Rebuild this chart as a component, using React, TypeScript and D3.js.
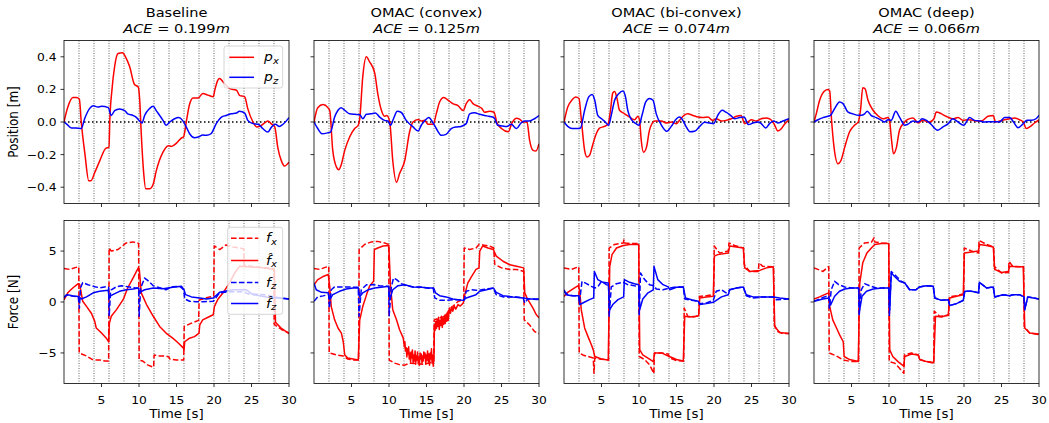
import React from "react";
import * as d3 from "d3";

type Pt = [number, number];

// panel titles and tracking error
const methods = ["Baseline", "OMAC (convex)", "OMAC (bi-convex)", "OMAC (deep)"];
const aceErrors = ["0.199", "0.125", "0.074", "0.066"];
const timeTicks = [5, 10, 15, 20, 25, 30];
const phaseTimes = [2, 4, 6, 8, 10, 12, 14, 16, 18, 20, 22, 24, 26, 28];
const positionTicks = [-0.4, -0.2, 0, 0.2, 0.4];
const forceTicks = [-5, 0, 5];

// ---- position [m] ----
const baselinePx: Pt[] = [[0,0],[0.5,0.09],[1.2,0.15],[1.65,0.15],[2.05,0.14],[2.3,0],[2.8,-0.2],[3.3,-0.36],[3.6,-0.36],[4.1,-0.31],[4.75,-0.24],[5.6,-0.16],[6.0,-0.155],[6.1,0],[6.4,0.2],[6.75,0.34],[7.2,0.42],[7.8,0.425],[8.2,0.4],[8.75,0.34],[9.4,0.23],[9.9,0.215],[10.1,0.13],[10.3,-0.07],[10.6,-0.3],[10.9,-0.41],[11.4,-0.41],[11.9,-0.38],[12.3,-0.3],[13.2,-0.185],[13.9,-0.145],[14.3,-0.15],[15,-0.13],[15.6,-0.1],[15.95,-0.09],[16.3,0],[16.75,0.11],[17.2,0.148],[17.9,0.148],[18.5,0.175],[19.2,0.165],[19.9,0.155],[20.1,0.195],[20.5,0.256],[20.75,0.267],[21.2,0.246],[21.6,0.226],[22.1,0.205],[23,0.195],[23.4,0.164],[24.1,0.154],[24.5,0.082],[25.2,0],[25.7,-0.03],[26.1,-0.027],[26.75,-0.006],[27.2,0.006],[27.6,-0.01],[28.1,-0.03],[28.5,-0.155],[29,-0.24],[29.4,-0.27],[30,-0.246]];
const baselinePz: Pt[] = [[0,0],[0.3,-0.01],[1,-0.037],[1.6,-0.037],[2.3,-0.04],[2.75,0.02],[3.4,0.082],[3.9,0.1],[4.5,0.092],[5,0.096],[5.9,0.088],[6.3,0.04],[6.75,0.07],[7.4,0.08],[8.1,0.07],[8.5,0.05],[9.2,0.04],[9.6,0.03],[10.1,0.005],[10.4,-0.006],[10.75,0.04],[11.4,0.082],[11.9,0.096],[12.3,0.07],[13.2,0.01],[13.6,-0.02],[14.1,0],[14.75,0.02],[15.3,0.027],[15.8,0.01],[16.3,-0.03],[16.75,-0.072],[17.4,-0.096],[17.9,-0.092],[18.5,-0.08],[19,-0.082],[19.6,-0.072],[20.3,-0.01],[21,0.03],[21.6,0.04],[22.3,0.05],[23,0.055],[23.4,0.066],[24.1,0.055],[24.5,0.01],[25.2,-0.01],[25.9,-0.014],[26.5,-0.04],[27.2,-0.062],[27.6,-0.035],[28.2,-0.014],[28.7,-0.027],[29.2,-0.014],[30,0.027]];
const convexPx: Pt[] = [[0,0],[0.5,0.088],[1.2,0.107],[1.85,0.088],[2.1,0.07],[2.5,-0.174],[3,-0.277],[3.3,-0.293],[3.6,-0.267],[4.1,-0.174],[4.75,-0.092],[5.4,-0.041],[5.9,-0.02],[6.1,0.02],[6.5,0.277],[6.98,0.4],[7.4,0.37],[8.1,0.3],[8.5,0.174],[9,0.07],[9.4,0.035],[9.7,0.04],[10.1,0],[10.5,-0.236],[11,-0.37],[11.4,-0.318],[12.1,-0.236],[12.75,-0.06],[13.2,0],[13.9,0.016],[14.3,0.006],[14.75,0.01],[15.2,-0.014],[15.9,-0.014],[16.3,0.05],[16.75,0.123],[17.3,0.15],[17.9,0.133],[18.5,0.113],[19.2,0.1],[19.9,0.07],[20.3,0.113],[20.75,0.137],[21.2,0.113],[21.9,0.096],[22.4,0.082],[22.75,0.06],[23.4,0.066],[24,0.06],[24.4,-0.006],[25,-0.04],[25.9,-0.06],[26.4,-0.006],[27,0.023],[27.4,0.018],[27.9,0],[28.4,0],[28.75,-0.113],[29.2,-0.174],[29.6,-0.178],[30,-0.133]];
const convexPz: Pt[] = [[0,0],[0.5,-0.04],[1.07,-0.072],[1.87,-0.066],[2.2,-0.062],[2.75,0.03],[3.2,0.072],[3.6,0.088],[4.1,0.072],[4.75,0.05],[5.4,0.047],[6.1,0.045],[6.5,0.02],[6.98,0.047],[7.6,0.05],[8.2,0.055],[8.75,0.03],[9.4,0.01],[9.87,0.006],[10.2,-0.02],[10.6,0.02],[11.1,0.066],[11.6,0.06],[12.3,0.01],[13.2,-0.03],[13.9,-0.055],[14.3,-0.02],[14.75,0.006],[15.3,0.027],[15.8,0],[16.3,-0.04],[17,-0.082],[17.6,-0.076],[18.3,-0.04],[19,-0.03],[19.6,-0.027],[20.3,-0.01],[20.75,0.05],[21.4,0.057],[22.1,0.047],[22.75,0.04],[23.3,0.035],[24,0.027],[24.5,-0.02],[25.2,-0.025],[25.7,-0.027],[26.3,-0.014],[27,-0.04],[27.6,-0.006],[28.1,0.006],[28.7,0.006],[29.4,0.02],[30,0.04]];
const biconvexPx: Pt[] = [[0,0],[0.5,0.092],[1.1,0.137],[1.55,0.154],[2,0.144],[2.3,0.02],[2.75,-0.174],[3.07,-0.215],[3.4,-0.205],[3.87,-0.133],[4.3,-0.072],[4.75,-0.037],[5.4,-0.027],[5.9,-0.01],[6.2,0.072],[6.5,0.178],[6.75,0.187],[7.07,0.144],[7.4,0.072],[8.1,0.05],[8.75,0.03],[9.4,0.014],[9.87,0.035],[10.1,0],[10.3,-0.113],[10.6,-0.185],[11,-0.154],[11.4,-0.05],[12.1,0.006],[13,0.006],[13.6,-0.006],[14.3,0],[15,-0.01],[15.4,0.01],[16,0.04],[16.5,0.05],[17.2,0.04],[17.9,0.03],[18.5,0.027],[19.2,0.03],[19.8,0.01],[20.3,0.02],[21,0.006],[21.6,0.01],[22.3,0.02],[23,0.035],[23.6,0.04],[24.1,-0.01],[24.5,0],[25,0.014],[25.6,0.006],[26.3,0.02],[27,0.025],[27.6,0.014],[28.1,-0.02],[28.5,-0.055],[29,-0.04],[29.4,-0.014],[30,0.014]];
const biconvexPz: Pt[] = [[0,0],[0.5,-0.027],[1.07,-0.04],[1.87,-0.04],[2.2,-0.037],[2.75,0.072],[3.3,0.154],[3.75,0.168],[4.1,0.133],[4.5,0.041],[5,0.02],[5.5,0],[5.95,-0.02],[6.3,0.041],[6.75,0.133],[7.3,0.174],[7.87,0.19],[8.2,0.154],[8.5,0.072],[9,0.014],[9.6,-0.01],[10,-0.02],[10.4,0.041],[10.9,0.123],[11.4,0.144],[11.87,0.133],[12.3,0.05],[13,-0.02],[13.7,-0.057],[14.3,-0.027],[15,0.02],[15.4,0.03],[15.9,0.006],[16.3,-0.03],[16.8,-0.06],[17.4,-0.057],[18.1,-0.027],[18.75,-0.002],[19.4,-0.006],[19.96,-0.01],[20.5,0.041],[21.1,0.072],[21.6,0.06],[22.2,0.041],[22.75,0.02],[23.4,0.027],[24,0.03],[24.6,-0.016],[25.3,-0.004],[25.9,0],[26.3,-0.01],[26.9,-0.037],[27.4,-0.01],[27.96,0.006],[28.5,-0.006],[29.2,0.006],[30,0.02]];
const deepPx: Pt[] = [[0,0],[0.3,0.05],[0.75,0.133],[1.4,0.19],[1.87,0.2],[2.1,0.19],[2.3,0.04],[2.67,-0.154],[3.2,-0.256],[3.6,-0.236],[4.1,-0.154],[4.75,-0.06],[5.4,-0.02],[5.9,0],[6.2,0.072],[6.5,0.21],[6.8,0.205],[7.2,0.133],[7.87,0.072],[8.5,0.04],[9.2,0.02],[9.87,0.027],[10.1,0],[10.3,-0.092],[10.6,-0.195],[11,-0.154],[11.4,-0.05],[12.1,0],[12.5,0.016],[13.2,0.025],[13.9,-0.006],[14.5,0.01],[15.4,0],[16,0.02],[16.3,0.062],[17,0.05],[17.6,0.035],[18.5,0.02],[19.2,0.027],[19.9,0.01],[20.5,0.014],[21.2,0.01],[21.9,0.006],[22.5,0.01],[23.2,0.035],[23.9,0.04],[24.2,0],[24.75,0.006],[25.4,0.014],[26.1,0.02],[26.75,0.025],[27.4,0.014],[27.9,0],[28.3,-0.04],[28.75,-0.03],[29.4,-0.006],[30,0.014]];
const deepPz: Pt[] = [[0,0],[0.53,0.014],[1.2,0.027],[1.87,0.035],[2.2,0.041],[2.75,0.082],[3.4,0.123],[3.87,0.113],[4.5,0.062],[5.2,0.05],[5.9,0.041],[6.3,0.041],[6.75,0.05],[7.1,0.066],[7.6,0.041],[8.3,0.027],[9,0.01],[9.4,0],[9.87,0.014],[10.3,0.01],[10.9,0.066],[11.4,0.03],[12.1,-0.02],[12.5,-0.014],[13.2,0.006],[13.9,0],[14.4,0.02],[15,0.01],[15.6,-0.014],[16.5,-0.05],[17.2,-0.03],[17.9,-0.01],[18.5,0.02],[19.2,0],[19.96,-0.02],[20.75,0.027],[21.4,0.01],[22.1,0.006],[22.75,0],[23.4,0.002],[24.1,0.002],[24.75,0],[25.4,0.027],[26.1,0.027],[26.6,0],[27.2,-0.035],[27.9,-0.01],[28.4,0.01],[29,0.01],[29.6,0.02],[30,0.041]];

// ---- force [N]: measured f and learned estimate f-hat ----
const baselineFx: Pt[] = [[0,3.3],[0.75,3.2],[1.6,3.4],[1.97,3.45],[2.03,-5.0],[3,-5.3],[3.9,-5.7],[4.75,-5.7],[5.4,-5.8],[5.95,-5.8],[6.02,5.3],[6.3,5.0],[7.2,5.15],[8.3,5.8],[9.2,5.9],[9.95,5.75],[10.02,-5.7],[10.5,-5.8],[11.2,-6.2],[11.95,-6.4],[12.02,-5.2],[12.75,-5.3],[13.6,-5.3],[14.0,-5.4],[14.1,-5.6],[15,-5.7],[15.96,-5.7],[16.03,-2.4],[17,-2.07],[17.95,-1.8],[18.02,0.2],[18.5,0.3],[19.4,0.5],[19.96,0.56],[20.03,5.5],[20.75,5.15],[21.6,5.6],[22,5.5],[22.5,5.4],[23.5,5.3],[23.97,5.2],[24.03,3.6],[25,3.5],[26,3.4],[27,3.35],[27.96,3.3],[28.03,-2.2],[29,-2.7],[30,-3.05]];
const baselineFxHat: Pt[] = [[0,0.2],[0.5,0.9],[1.2,1.4],[1.9,1.8],[2.1,1.7],[2.5,0.07],[3,-0.43],[3.65,-1.1],[4.1,-1.9],[4.3,-2.55],[5,-3.05],[5.65,-3.55],[5.95,-3.9],[6.05,-2.1],[6.3,-1.4],[7,-0.75],[7.9,0.25],[8.5,1.4],[9.2,2.35],[9.9,3.35],[10.05,3.1],[10.3,0.9],[11,-0.25],[11.9,-1.4],[12.75,-2.4],[13.6,-3.05],[14.5,-3.55],[15.2,-4.0],[15.9,-4.5],[16.0,-4.7],[16.1,-3.9],[16.75,-3.55],[17.4,-3.4],[18,-3.05],[18.1,-2.25],[18.5,-1.75],[19.2,-1.5],[19.9,-1.25],[20.05,-0.45],[20.5,0.25],[21.2,0.9],[22.1,1.9],[22.8,2.9],[23.4,3.5],[24.5,3.45],[26,3.4],[27,3.3],[28.05,3.2],[28.2,-2.0],[29,-2.6],[30,-3.1]];
const baselineFz: Pt[] = [[0,0.4],[0.3,0.7],[1,0.6],[1.9,0.5],[2.05,-0.6],[2.2,1.4],[2.5,1.9],[3.2,1.7],[4.1,1.5],[4.75,1.4],[5.65,1.5],[5.95,1.45],[6.02,-1.4],[6.2,0.9],[6.3,1.2],[7,1.5],[7.65,1.6],[8.5,1.5],[9.4,1.4],[9.95,1.35],[10.02,-1.4],[10.2,1.2],[10.3,1.5],[10.75,2.35],[11.2,2.1],[11.9,1.6],[12.75,1.4],[13.6,1.2],[14.5,1.5],[15.4,1.55],[15.95,1.2],[16.1,0.3],[16.75,0.07],[17.6,0.03],[18.5,0.03],[19.9,0.07],[20.75,0.9],[22,1.0],[24,1.0],[24.5,0.8],[26,0.75],[27,0.7],[28,0.5],[30,0.3]];
const baselineFzHat: Pt[] = [[0,0.5],[0.5,0.72],[1.2,0.6],[2,0.55],[2.3,0.3],[3,0.5],[3.9,0.9],[4.75,1.05],[5.9,1.15],[6.0,0.5],[6.5,0.72],[7.4,1.05],[8.3,1.2],[9.2,1.28],[9.9,1.38],[10.1,0.95],[10.75,1.2],[11.9,1.38],[13.2,1.31],[14.5,1.44],[15.65,1.54],[16,1.2],[16.2,0.72],[17,0.5],[18.1,0.39],[19,0.3],[19.9,0.39],[20.75,0.95],[22.5,1.2],[24.3,1.2],[25.2,0.72],[27,0.5],[30,0.3]];
const convexFx: Pt[] = [[0,3.3],[0.75,3.2],[1.5,3.4],[1.97,3.5],[2.03,-5.0],[3,-5.2],[3.9,-5.3],[4.5,-5.6],[5.2,-5.7],[5.95,-5.7],[6.02,5.15],[6.75,5.65],[7.65,5.9],[8.5,5.95],[9.4,5.8],[9.96,5.65],[10.03,-5.7],[10.75,-6.0],[11.4,-6.15],[12.1,-6.2],[12.75,-6.0],[13.6,-6.05],[14.5,-6.1],[15.4,-6.0],[15.96,-5.8],[16.03,-1.75],[16.75,-1.55],[17.6,-1.4],[18,-0.75],[18.5,-0.45],[19.2,0.05],[19.96,0.25],[20.03,5.3],[20.75,5.15],[21.6,5.3],[22,5.65],[22.5,5.6],[23.4,5.5],[23.96,5.3],[24.1,3.7],[25,3.35],[26.1,3.2],[27,3.2],[27.96,3.0],[28.03,-1.75],[28.75,-2.25],[29.4,-2.9],[30,-3.1]];
const convexFxHat: Pt[] = [[0,1.7],[0.5,2.2],[1.2,2.5],[1.9,2.7],[2.1,1.5],[2.3,-0.45],[2.75,-1.75],[3.2,-2.55],[3.65,-3.05],[3.9,-3.9],[4.1,-5.2],[4.5,-5.5],[5.2,-5.6],[5.9,-5.7],[6.1,-1.75],[6.5,-0.45],[7,0.7],[7.4,1.55],[7.95,2.05],[8.05,5.15],[8.5,5.3],[9.2,5.5],[9.98,5.55],[10.2,1.55],[10.5,-0.75],[11,-1.75],[11.4,-2.7],[11.9,-3.55],[12.05,-4.4],[12.12,-3.9],[12.2,-4.8],[12.3,-4.5],[12.38,-5.4],[12.45,-4.6],[12.55,-5.1],[12.62,-4.4],[12.7,-5.6],[12.8,-5.0],[12.88,-5.9],[12.95,-4.9],[13.05,-5.5],[13.12,-4.7],[13.22,-6.0],[13.3,-5.2],[13.4,-5.8],[13.48,-4.8],[13.56,-6.1],[13.65,-5.3],[13.72,-5.7],[13.8,-4.9],[13.9,-6.0],[13.98,-5.4],[14.06,-6.2],[14.14,-5.0],[14.22,-5.6],[14.3,-5.1],[14.4,-6.0],[14.48,-5.3],[14.56,-5.8],[14.64,-4.9],[14.72,-5.5],[14.8,-5.0],[14.9,-6.1],[14.98,-5.2],[15.06,-5.7],[15.14,-4.8],[15.24,-5.9],[15.32,-5.1],[15.4,-6.2],[15.5,-5.0],[15.58,-5.6],[15.66,-4.6],[15.74,-6.0],[15.82,-5.2],[15.9,-6.3],[16.0,-5.4],[16.06,-2.2],[16.14,-2.8],[16.22,-1.9],[16.32,-2.6],[16.42,-1.7],[16.5,-2.4],[16.6,-1.5],[16.7,-2.7],[16.8,-1.8],[16.9,-2.3],[17.0,-1.4],[17.1,-2.5],[17.2,-1.6],[17.3,-2.2],[17.4,-1.3],[17.5,-2.1],[17.6,-1.2],[17.7,-1.9],[17.8,-1.0],[17.9,-1.8],[18.05,-0.6],[18.2,-1.1],[18.35,-0.5],[18.5,-0.9],[18.7,-0.4],[18.9,-0.7],[19.2,-0.25],[19.5,-0.4],[19.9,-0.1],[20.1,0.7],[20.5,1.85],[21,2.5],[21.6,3.2],[22,3.35],[22.1,5.0],[22.5,5.5],[23.2,5.3],[23.9,5.15],[24.3,4.5],[25.2,4.0],[26.1,3.65],[27,3.5],[27.95,3.35],[28.1,0.9],[28.5,0.25],[29.2,-0.6],[29.6,-1.2],[30,-1.55]];
const convexFz: Pt[] = [[0,0.07],[0.5,0.5],[1.2,0.6],[1.95,0.72],[2.05,-0.6],[2.3,1.2],[2.75,1.48],[4.3,1.48],[5.9,1.44],[6.0,-1.4],[6.3,1.2],[7,1.7],[7.9,1.7],[8.75,1.6],[9.65,1.55],[9.97,1.5],[10.02,-1.35],[10.3,1.4],[10.6,2.35],[11,2.2],[11.65,1.8],[12.3,1.6],[13.2,1.48],[14.1,1.48],[15,1.38],[15.9,1.34],[16.1,0.4],[16.75,0.16],[17.6,0.16],[18.5,0.23],[19.4,0.23],[20,0.16],[20.3,1.05],[21,1.2],[21.6,1.15],[22.3,1.2],[23.2,1.3],[23.9,1.34],[24.3,0.72],[25.2,0.5],[27,0.5],[27.9,0.4],[28.1,-0.1],[28.5,0.3],[30,0.23]];
const convexFzHat: Pt[] = [[0,1.85],[0.3,1.2],[1,0.95],[1.9,0.9],[2.1,0.23],[2.5,0.72],[3.4,1.05],[4.3,1.28],[5.2,1.38],[5.9,1.38],[6.1,0.5],[6.5,0.9],[7.2,1.2],[8.1,1.38],[9.2,1.48],[9.96,1.55],[10.1,0.23],[10.5,1.2],[11.2,1.6],[12.1,1.7],[13.2,1.48],[14.3,1.44],[15.4,1.38],[15.96,1.38],[16.2,0.9],[16.75,0.62],[17.6,0.5],[18.5,0.3],[19.9,0.16],[20.3,0.4],[21.6,0.72],[22.1,1.05],[23,1.2],[23.9,1.38],[24.3,0.95],[25.2,0.62],[26.5,0.5],[27.9,0.4],[28.75,0.3],[30,0.3]];
const biconvexFx: Pt[] = [[0,3.35],[1,3.2],[1.9,3.45],[1.97,3.45],[2.03,-5.0],[2.5,-5.2],[3.2,-5.35],[3.9,-5.5],[4.0,-7.0],[4.1,-5.5],[4.75,-5.6],[5.95,-5.7],[6.02,5.3],[6.75,5.65],[7.9,5.8],[8.0,6.1],[8.1,5.8],[8.75,5.75],[9.96,5.75],[10.03,-5.35],[10.75,-5.65],[11.4,-6.15],[11.98,-7.0],[12.05,-5.0],[13,-5.0],[13.9,-5.1],[14.1,-5.5],[15,-5.75],[15.96,-5.8],[16.03,-0.6],[16.5,-1.4],[17.2,-1.48],[17.95,-1.35],[18.05,0.55],[19,0.62],[19.96,0.72],[20.03,5.5],[20.75,4.8],[21.9,5.0],[22,5.8],[22.75,5.55],[23.95,5.3],[24.03,3.65],[24.75,3.0],[25.9,3.0],[26,3.85],[26.5,3.5],[27.95,3.45],[28.03,-2.25],[28.5,-2.9],[29.2,-3.1],[30,-3.1]];
const biconvexFxHat: Pt[] = [[0,0.55],[0.5,0.95],[1.2,1.28],[1.9,1.6],[2.1,1.05],[2.3,-0.75],[2.75,-2.55],[3.2,-3.4],[3.65,-4.2],[3.9,-4.7],[4.1,-5.35],[5,-5.6],[5.9,-5.7],[6.1,3.5],[6.4,4.65],[7,5.3],[7.9,5.55],[8.75,5.65],[9.96,5.65],[10.1,-4.7],[10.5,-5.2],[11.2,-5.5],[11.9,-5.85],[12.1,-5.0],[13,-5.0],[13.9,-5.3],[15,-5.65],[15.9,-5.8],[16.1,-1.4],[16.75,-1.48],[17.6,-1.4],[17.95,-1.35],[18.1,0.4],[19,0.5],[19.9,0.56],[20.05,4.5],[20.5,4.65],[21.9,4.8],[22.1,5.5],[23,5.4],[23.9,5.3],[24.1,3.35],[24.75,3.0],[26.1,3.1],[27,3.35],[27.9,3.45],[28.1,-2.4],[28.75,-3.0],[30,-3.1]];
const biconvexFz: Pt[] = [[0,1.05],[0.5,0.72],[1.2,0.62],[1.97,0.62],[2.05,-0.1],[2.4,2.03],[3,1.8],[3.65,1.54],[4.1,1.38],[4.5,1.48],[5,2.03],[5.65,1.7],[5.95,1.6],[6.02,-1.4],[6.3,1.48],[7,1.8],[7.9,1.93],[8.5,1.7],[9.4,1.6],[9.97,1.55],[10.02,-1.4],[10.2,2.85],[10.75,2.2],[11.4,1.7],[12,1.6],[12.3,1.28],[13.2,1.2],[14.1,1.38],[15,1.48],[15.9,1.48],[16.1,0.3],[17,0.16],[17.9,0.07],[18.1,-0.16],[19,-0.1],[19.9,0.16],[20.3,1.05],[21,1.2],[21.6,0.9],[22.1,1.2],[23,1.38],[23.9,1.48],[24.3,0.62],[25.2,0.39],[26.5,0.5],[27.9,0.5],[28.3,0.23],[30,0.3]];
const biconvexFzHat: Pt[] = [[0,1.2],[0.3,0.72],[1,0.62],[1.97,0.62],[2.1,-0.25],[2.5,-0.1],[3.4,0.23],[3.96,0.4],[4.05,3.0],[4.5,2.2],[5.2,1.93],[5.9,1.87],[6.1,-0.75],[6.5,-0.25],[7.2,0.23],[7.95,0.5],[8.05,2.2],[8.75,1.93],[9.4,1.8],[9.96,1.7],[10.1,-0.75],[10.5,0.3],[11.2,0.9],[11.9,1.2],[12.0,3.5],[12.5,2.2],[13.2,1.7],[13.9,1.48],[14.1,1.2],[15,1.44],[15.9,1.48],[16.2,0.4],[17,0.23],[17.9,0.07],[18.1,-0.25],[19,-0.16],[19.9,-0.03],[20.1,0.07],[21,0.5],[21.9,0.72],[22.1,1.2],[23,1.38],[23.9,1.48],[24.3,0.72],[25.2,0.5],[26.5,0.5],[27.9,0.5],[28.75,0.4],[30,0.3]];
const deepFx: Pt[] = [[0,3.35],[1.2,3.0],[1.9,3.45],[1.97,3.45],[2.03,-5.0],[3,-5.3],[3.9,-5.7],[5,-5.85],[5.95,-5.85],[6.02,5.3],[6.75,5.8],[7.65,5.85],[8.0,6.3],[8.1,5.9],[9,5.8],[9.96,5.75],[10.03,-5.85],[10.75,-6.0],[11.4,-6.5],[11.98,-7.0],[12.05,-5.2],[13,-5.0],[13.9,-5.2],[14.1,-5.65],[15,-5.85],[15.96,-6.0],[16.03,-0.9],[16.75,-1.4],[17.6,-1.35],[17.96,-1.3],[18.03,0.5],[19,0.62],[19.96,0.82],[20.03,5.3],[21,5.0],[21.96,4.8],[22.0,6.05],[23,5.65],[23.96,5.4],[24.03,3.5],[25,2.85],[25.95,2.9],[26.0,4.0],[26.5,3.5],[27.95,3.45],[28.03,-2.4],[28.75,-3.05],[30,-3.2]];
const deepFxHat: Pt[] = [[0,0.3],[0.75,0.5],[1.4,0.72],[1.97,0.9],[2.1,-0.45],[2.5,-1.75],[3,-2.55],[3.4,-3.2],[3.9,-3.9],[4.02,-5.35],[4.75,-5.65],[5.9,-5.85],[6.1,1.85],[6.5,3.85],[7.05,4.8],[7.65,5.3],[8.1,5.65],[9,5.75],[9.96,5.75],[10.1,-4.7],[10.5,-5.35],[11.2,-5.85],[11.97,-6.3],[12.1,-5.35],[13,-5.1],[13.9,-5.2],[14.1,-5.65],[15,-5.85],[15.96,-5.95],[16.2,-1.4],[17,-1.48],[17.9,-1.25],[18.1,0.4],[19,0.56],[19.9,0.72],[20.05,4.8],[21,4.9],[21.9,5.0],[22.1,5.65],[23,5.55],[23.9,5.4],[24.1,3.2],[25,2.9],[25.9,3.0],[26.1,3.5],[27,3.45],[27.9,3.45],[28.1,-2.55],[28.75,-3.05],[30,-3.15]];
const deepFz: Pt[] = [[0,0.07],[0.75,0.3],[1.4,0.5],[1.97,0.62],[2.05,-0.6],[2.3,1.2],[2.75,2.03],[3.3,1.7],[4.1,1.48],[5,1.38],[5.95,1.38],[6.02,-1.4],[6.3,1.2],[6.75,1.8],[7.4,1.6],[8.3,1.38],[9.2,1.38],[9.97,1.38],[10.05,-1.4],[10.3,3.0],[11,2.5],[11.65,2.03],[12.1,1.87],[12.75,1.2],[13.6,1.2],[14.05,1.48],[15,1.6],[15.9,1.54],[16.1,0.4],[17,0.16],[17.9,0.23],[18.1,-0.35],[19,-0.16],[19.9,0.16],[20.1,1.05],[21,1.05],[21.95,0.9],[22.05,1.93],[23,1.38],[23.9,1.48],[24.1,0.5],[25.2,0.72],[26.1,0.62],[26.5,0.72],[27.4,0.72],[28,0.5],[28.1,-0.75],[28.5,0.5],[30,0.3]];
const deepFzHat: Pt[] = [[0,0.07],[1.2,0.3],[2,0.4],[2.2,-0.3],[2.75,0.56],[3.4,1.05],[4.1,1.28],[5,1.38],[5.95,1.38],[6.1,-0.75],[6.4,0.56],[7,1.05],[7.9,1.28],[9,1.38],[9.97,1.38],[10.1,-0.75],[10.3,2.85],[10.75,2.5],[11.4,2.03],[12.1,1.87],[12.75,1.2],[13.6,1.2],[14.05,1.48],[15,1.6],[15.9,1.54],[16.1,0.4],[17,0.16],[17.9,0.23],[18.1,-0.35],[19,-0.16],[19.9,0.16],[20.1,1.05],[21,1.05],[21.95,0.9],[22.05,1.93],[23,1.38],[23.9,1.48],[24.1,0.5],[25.2,0.72],[26.1,0.62],[26.5,0.72],[27.4,0.72],[28,0.5],[28.1,-0.75],[28.5,0.5],[30,0.3]];

const positionSeries = [
  [baselinePx, baselinePz],
  [convexPx, convexPz],
  [biconvexPx, biconvexPz],
  [deepPx, deepPz],
];
const forceSeries = [
  [baselineFx, baselineFxHat, baselineFz, baselineFzHat],
  [convexFx, convexFxHat, convexFz, convexFzHat],
  [biconvexFx, biconvexFxHat, biconvexFz, biconvexFzHat],
  [deepFx, deepFxHat, deepFz, deepFzHat],
];

const RED = "#ff0000";
const BLUE = "#0000ff";
const DASH = "5.55,2.4";
const positionStyles = [{ color: RED, dash: undefined }, { color: BLUE, dash: undefined }];
const forceStyles = [
  { color: RED, dash: DASH },
  { color: RED, dash: undefined },
  { color: BLUE, dash: DASH },
  { color: BLUE, dash: undefined },
];

// layout
const W = 1049, H = 423;
const LEFT0 = 64, COL_STEP = 250, PLOT_W = 225, PLOT_H = 163;
const ROW_TOP = [40.5, 220.5];
const SX = 1.12; // glyphs in the reference are slightly wider than tall
const FONT = "DejaVu Sans, Verdana, sans-serif";
const fmtTick = (v: number, row: number) =>
  (row === 0 ? d3.format(".1f")(v) : String(v)).replace("-", "\u2212");

function Txt({ x, y, size, anchor = "start", rotate = false, children }: any) {
  const t = rotate
    ? `translate(${x},${y}) rotate(-90) scale(1,${SX})`
    : `translate(${x},${y}) scale(${SX},1)`;
  return (
    <text transform={t} fontSize={size} textAnchor={anchor} fontFamily={FONT} fill="#000">
      {children}
    </text>
  );
}

function Panel({ col, row }: { col: number; row: number }) {
  const left = LEFT0 + col * COL_STEP;
  const top = ROW_TOP[row];
  const x = d3.scaleLinear().domain([0, 30]).range([left, left + PLOT_W]);
  const y = d3.scaleLinear().domain(row === 0 ? [-0.5, 0.5] : [-8, 8]).range([top + PLOT_H, top]);
  const line = d3.line<Pt>()
    .x(d => x(d[0]))
    .y(d => y(d[1]))
    .curve(row === 0 ? d3.curveMonotoneX : d3.curveLinear);
  const series = row === 0 ? positionSeries[col] : forceSeries[col];
  const styles = row === 0 ? positionStyles : forceStyles;
  const yTicks = row === 0 ? positionTicks : forceTicks;
  const clipId = `clip-${row}-${col}`;

  return (
    <g>
      <defs>
        <clipPath id={clipId}>
          <rect x={left} y={top} width={PLOT_W} height={PLOT_H} />
        </clipPath>
      </defs>
      <g clipPath={`url(#${clipId})`}>
        {phaseTimes.map(t => (
          <line key={t} x1={x(t)} x2={x(t)} y1={top} y2={top + PLOT_H}
            stroke="#222" strokeWidth={0.7} strokeDasharray="1,1.5" />
        ))}
        {row === 0 && (
          <line x1={left} x2={left + PLOT_W} y1={y(0)} y2={y(0)}
            stroke="#000" strokeWidth={1.6} strokeDasharray="1.5,2.5" />
        )}
        {series.map((s, i) => (
          <path key={i} d={line(s) || ""} fill="none" stroke={styles[i].color}
            strokeWidth={1.5} strokeDasharray={styles[i].dash} strokeLinejoin="round" />
        ))}
      </g>
      <rect x={left} y={top} width={PLOT_W} height={PLOT_H} fill="none" stroke="#000" strokeWidth={0.8} />
      {timeTicks.map(t => (
        <g key={t}>
          <line x1={x(t)} x2={x(t)} y1={top + PLOT_H} y2={top + PLOT_H + 3.5} stroke="#000" strokeWidth={0.8} />
          {row === 1 && (
            <Txt x={x(t)} y={403.5} size={11} anchor="middle">{t}</Txt>
          )}
        </g>
      ))}
      {yTicks.map(v => (
        <g key={v}>
          <line x1={left - 3.5} x2={left} y1={y(v)} y2={y(v)} stroke="#000" strokeWidth={0.8} />
          {col === 0 && (
            <Txt x={left - 7.5} y={y(v) + 4} size={11} anchor="end">{fmtTick(v, row)}</Txt>
          )}
        </g>
      ))}
      {row === 1 && (
        <Txt x={left + PLOT_W / 2} y={418} size={12} anchor="middle">Time [s]</Txt>
      )}
      {row === 0 && (
        <>
          <Txt x={left + PLOT_W / 2} y={17} size={13} anchor="middle">{methods[col]}</Txt>
          <Txt x={left + PLOT_W / 2} y={32.5} size={13} anchor="middle">
            <tspan fontStyle="italic">ACE</tspan>
            <tspan> = {aceErrors[col]}</tspan>
            <tspan fontStyle="italic">m</tspan>
          </Txt>
        </>
      )}
    </g>
  );
}

function LegendLabel({ x, y, sym, sub, hat }: { x: number; y: number; sym: string; sub: string; hat?: boolean }) {
  return (
    <Txt x={x} y={y + 4} size={12.5}>
      <tspan fontStyle="italic">{hat ? sym + "\u0302" : sym}</tspan>
      <tspan fontStyle="italic" fontSize={9} dy={2.5}>{sub}</tspan>
    </Txt>
  );
}

function Legends() {
  const posEntries = [
    { y: 57.3, sym: "p", sub: "x", ...positionStyles[0] },
    { y: 77.3, sym: "p", sub: "z", ...positionStyles[1] },
  ];
  const forceEntries = [
    { y: 238.3, sym: "f", sub: "x", hat: false, ...forceStyles[0] },
    { y: 260.5, sym: "f", sub: "x", hat: true, ...forceStyles[1] },
    { y: 282.5, sym: "f", sub: "z", hat: false, ...forceStyles[2] },
    { y: 303.5, sym: "f", sub: "z", hat: true, ...forceStyles[3] },
  ];
  return (
    <g>
      <rect x={224} y={46} width={58.7} height={42} rx={2.5} fill="#fff" fillOpacity={0.8} stroke="#cccccc" strokeWidth={0.8} />
      {posEntries.map((e, i) => (
        <g key={i}>
          <line x1={229.3} x2={254} y1={e.y} y2={e.y} stroke={e.color} strokeWidth={1.5} />
          <LegendLabel x={264} y={e.y} sym={e.sym} sub={e.sub} />
        </g>
      ))}
      <rect x={227.7} y={227.3} width={55} height={87} rx={2.5} fill="#fff" fillOpacity={0.8} stroke="#cccccc" strokeWidth={0.8} />
      {forceEntries.map((e, i) => (
        <g key={i}>
          <line x1={231} x2={258.3} y1={e.y} y2={e.y} stroke={e.color} strokeWidth={1.5} strokeDasharray={e.dash} />
          <LegendLabel x={266} y={e.y} sym={e.sym} sub={e.sub} hat={e.hat} />
        </g>
      ))}
    </g>
  );
}

export default function App() {
  return (
    <svg width={W} height={H} style={{ position: "absolute", left: 0, top: 0, background: "#fff" }}>
      <rect width={W} height={H} fill="#fff" />
      {[0, 1].map(row => [0, 1, 2, 3].map(col => <Panel key={`${row}-${col}`} row={row} col={col} />))}
      <Txt x={17.5} y={ROW_TOP[0] + PLOT_H / 2} size={12} anchor="middle" rotate>Position [m]</Txt>
      <Txt x={17.5} y={ROW_TOP[1] + PLOT_H / 2} size={12} anchor="middle" rotate>Force [N]</Txt>
      <Legends />
    </svg>
  );
}
